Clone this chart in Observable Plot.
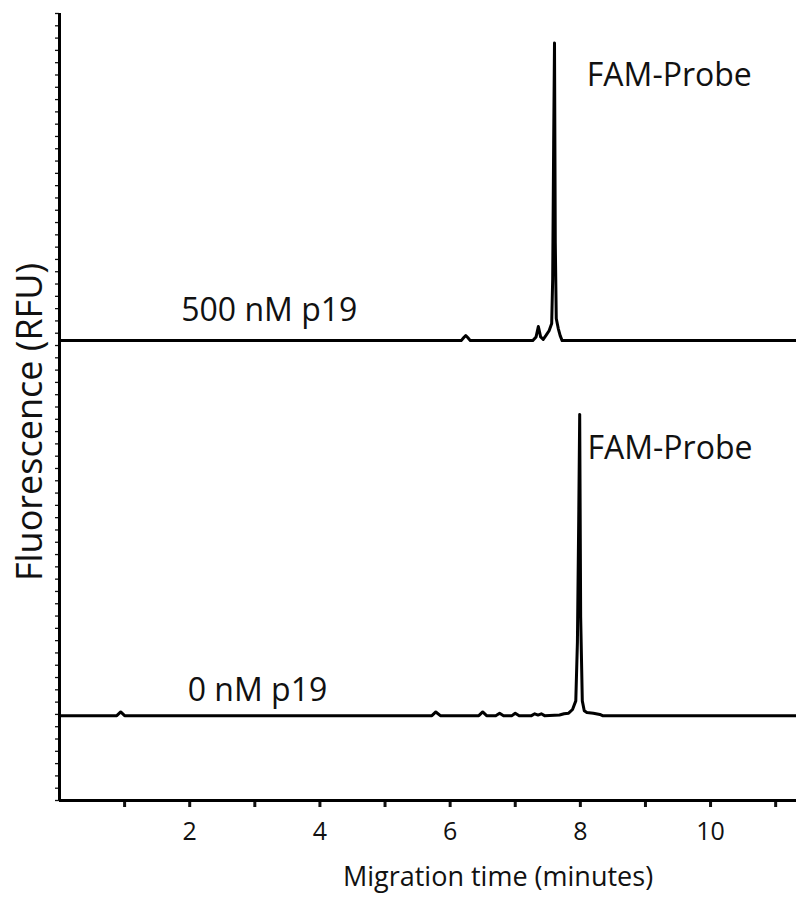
<!DOCTYPE html>
<html><head><meta charset="utf-8">
<script src="https://cdn.jsdelivr.net/npm/d3@7"></script>
<script src="https://cdn.jsdelivr.net/npm/@observablehq/plot@0.6"></script>
<style>body{margin:0;background:#fff}</style>
</head><body><div id="chart"></div>
<script>
// Electropherogram traces (time in minutes, signal relative to each trace's baseline, arbitrary RFU units)
const traceNames = ["500 nM p19", "0 nM p19"];
const traceOffsets = [37.4, 6.9];

const topTimes  = [0, 6.17, 6.21, 6.24, 6.27, 6.31, 7.27, 7.32, 7.355, 7.39, 7.43, 7.47, 7.52, 7.56, 7.575, 7.59, 7.603, 7.615, 7.63, 7.66, 7.69, 7.72, 11.4];
const topValues = [0, 0,    0.25, 0.4,  0.25, 0,    0,    0.3,  1.15,  0.3,  0.1,  0.4,  0.8,  1.4,  5,     16,   24.2,  8,     1.8,  1.0,  0.4,  0,    0];

const botTimes  = [0, 0.88, 0.94, 1.0, 5.72, 5.78, 5.85, 6.44, 6.50, 6.56, 6.70, 6.76, 6.82, 6.95, 7.0, 7.06, 7.25, 7.30, 7.35, 7.40, 7.45, 7.68, 7.75, 7.82, 7.88, 7.93, 7.955, 7.975, 7.99, 8.005, 8.03, 8.06, 8.10, 8.2, 8.30, 8.34, 11.4];
const botValues = [0, 0,    0.3,  0,   0,    0.3,  0,    0,    0.3,  0,    0,    0.2,  0,    0,    0.2, 0,    0,    0.15, 0.05, 0.15, 0,    0.05, 0.15, 0.2,  0.5,  1.2,  6,     16,    24.5, 8,     1.2,  0.4,  0.25, 0.2, 0.1,  0,    0];

const xTicks = [1, 2, 3, 4, 5, 6, 7, 8, 9, 10, 11];
const xTickLabels = ["", "2", "", "4", "", "6", "", "8", "", "10", ""];
const yTicks = d3.range(0, 65, 1);

const annText = ["500 nM p19", "FAM-Probe", "0 nM p19", "FAM-Probe"];
const annX = [1.87, 8.10, 1.97, 8.11];
const annY = [39.8, 58.9, 8.9, 28.6];

const series = [[topTimes, topValues], [botTimes, botValues]];
const rows = series.flatMap(([ts, vs], k) => ts.map((t, i) => ({trace: traceNames[k], t, v: traceOffsets[k] + vs[i]})));
const ann = annText.map((text, i) => ({text, x: annX[i], y: annY[i]}));

const chart = Plot.plot({
  width: 796, height: 907,
  marginLeft: 59, marginTop: 13, marginBottom: 107, marginRight: 0,
  style: {fontFamily: "Open Sans", background: "white", color: "#111"},
  x: {domain: [0, 11.32]},
  y: {domain: [0, 64]},
  marks: [
    Plot.axisY({ticks: yTicks, tickSize: 4, tickFormat: () => "", strokeWidth: 1.3, label: null}),
    Plot.axisX({ticks: xTicks, tickSize: 7, tickPadding: 15, strokeWidth: 3, fontSize: 25, label: null,
      tickFormat: d => xTickLabels[xTicks.indexOf(d)]}),
    Plot.line(rows, {x: "t", y: "v", z: "trace", stroke: "black", strokeWidth: 3, curve: "linear"}),
    Plot.ruleX([0], {stroke: "black", strokeWidth: 3}),
    Plot.ruleY([0], {stroke: "black", strokeWidth: 3}),
    Plot.text(ann, {x: "x", y: "y", text: "text", textAnchor: "start", fontSize: 32, fill: "#111"}),
    Plot.text(["Migration time (minutes)"], {frameAnchor: "bottom", dx: 70, dy: 85, fontSize: 27, fill: "#111"}),
    Plot.text(["Fluorescence (RFU)"], {frameAnchor: "left", textAnchor: "middle", dx: -29, dy: 15, rotate: -90, fontSize: 36, fill: "#111"})
  ]
});
document.getElementById("chart").appendChild(chart);
</script>
</body></html>
